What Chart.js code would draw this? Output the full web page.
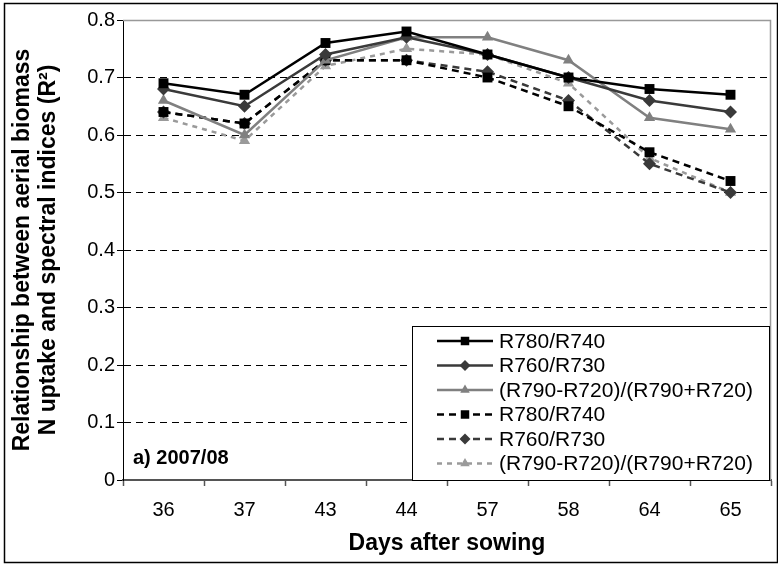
<!DOCTYPE html>
<html>
<head>
<meta charset="utf-8">
<script src="https://cdn.jsdelivr.net/npm/chart.js@4"></script>
<style>
  html, body { margin: 0; padding: 0; background: #fff; }
  #wrap { width: 778px; height: 565px; }
</style>
</head>
<body>
<div id="wrap"><canvas id="chart" width="778" height="565"></canvas></div>
<script>
const days = ['36', '37', '43', '44', '57', '58', '64', '65'];
const yTicks = [0, 0.1, 0.2, 0.3, 0.4, 0.5, 0.6, 0.7, 0.8];

// solid lines
const r780a = [0.69, 0.67, 0.76, 0.78, 0.74, 0.70, 0.68, 0.67];
const r760a = [0.68, 0.65, 0.74, 0.77, 0.74, 0.70, 0.66, 0.64];
const ndreA = [0.66, 0.60, 0.73, 0.77, 0.77, 0.73, 0.63, 0.61];
// dashed lines
const r780b = [0.64, 0.62, 0.73, 0.73, 0.70, 0.65, 0.57, 0.52];
const r760b = [0.64, 0.62, 0.73, 0.73, 0.71, 0.66, 0.55, 0.50];
const ndreB = [0.63, 0.59, 0.72, 0.75, 0.74, 0.69, 0.56, 0.50];

const labels = ['R780/R740', 'R760/R730', '(R790-R720)/(R790+R720)'];
const FONT = "'Liberation Sans', Arial, sans-serif";

function series(label, data, color, style, radius, dash) {
  return {
    label: label,
    data: data,
    borderColor: color,
    backgroundColor: color,
    borderWidth: 2.5,
    borderDash: dash,
    pointStyle: style,
    pointRadius: radius,
    pointHoverRadius: radius,
    pointBorderWidth: 0,
    tension: 0,
    fill: false
  };
}

const datasets = [
  series(labels[0], r780a, '#000000', 'rect', 7, []),
  series(labels[1], r760a, '#3a3a3a', 'rectRot', 6.5, []),
  series(labels[2], ndreA, '#808080', 'triangle', 6.5, []),
  series(labels[0], r780b, '#000000', 'rect', 7, [7, 5]),
  series(labels[1], r760b, '#3a3a3a', 'rectRot', 6.5, [7, 5]),
  series(labels[2], ndreB, '#9a9a9a', 'triangle', 6.5, [5, 5])
];

const frame = {
  id: 'frame',
  beforeDraw(chart) {
    const ctx = chart.ctx;
    ctx.save();
    ctx.fillStyle = '#fff';
    ctx.fillRect(0, 0, chart.width, chart.height);
    ctx.strokeStyle = '#000';
    ctx.lineWidth = 1.5;
    ctx.strokeRect(4.5, 3.5, 773, 559);
    ctx.restore();
  },
  beforeDatasetsDraw(chart) {
    const { ctx, chartArea: a } = chart;
    ctx.save();
    ctx.strokeStyle = '#999';
    ctx.lineWidth = 1.5;
    ctx.beginPath();
    ctx.moveTo(a.left, a.top + 0.5);
    ctx.lineTo(a.right - 0.5, a.top + 0.5);
    ctx.lineTo(a.right - 0.5, a.bottom);
    ctx.stroke();
    ctx.restore();
  },
  afterDraw(chart) {
    const { ctx, chartArea: a } = chart;
    ctx.save();
    // season label
    ctx.fillStyle = '#000';
    ctx.font = 'bold 20px ' + FONT;
    ctx.textBaseline = 'middle';
    ctx.fillText('a) 2007/08', a.left + 10, a.bottom - 22);

    // legend box inside plot area
    const bx = a.left + 289, by = a.top + 306, bw = a.right - 2 - bx, bh = a.bottom - by;
    ctx.fillStyle = '#fff';
    ctx.fillRect(bx, by, bw, bh);
    ctx.strokeStyle = '#000';
    ctx.lineWidth = 1;
    ctx.strokeRect(bx + 0.5, by + 0.5, bw, bh);
    ctx.font = '21px ' + FONT;
    chart.data.datasets.forEach((ds, i) => {
      const y = by + 15 + i * 24.5;
      const x0 = bx + 25, x1 = bx + 81;
      ctx.save();
      ctx.strokeStyle = ds.borderColor;
      ctx.lineWidth = ds.borderWidth;
      ctx.setLineDash(ds.borderDash);
      ctx.beginPath();
      ctx.moveTo(x0, y);
      ctx.lineTo(x1, y);
      ctx.stroke();
      ctx.restore();
      ctx.fillStyle = ds.borderColor;
      Chart.helpers.drawPoint(ctx, {
        pointStyle: ds.pointStyle,
        radius: ds.pointRadius - 1,
        rotation: 0,
        borderWidth: 0
      }, (x0 + x1) / 2, y);
      ctx.fillStyle = '#000';
      ctx.textBaseline = 'middle';
      ctx.fillText(ds.label, x1 + 6, y + 1);
    });
    ctx.restore();
  }
};

new Chart(document.getElementById('chart'), {
  type: 'line',
  data: { labels: days, datasets: datasets },
  options: {
    responsive: false,
    animation: false,
    events: [],
    layout: { padding: { left: 0, top: 20, right: 5, bottom: 0 } },
    plugins: { legend: { display: false }, tooltip: { enabled: false } },
    scales: {
      x: {
        type: 'category',
        offset: true,
        grid: { offset: true, drawOnChartArea: false, tickLength: 6, tickColor: '#555', tickWidth: 1.5 },
        border: { color: '#555', width: 2 },
        ticks: { color: '#000', font: { family: FONT, size: 20 }, padding: 12, maxRotation: 0 },
        title: {
          display: true, text: 'Days after sowing', color: '#000',
          font: { family: FONT, size: 23, weight: 'bold' }, padding: { top: 0, bottom: 8 }
        },
        afterFit(scale) { scale.height = 85; }
      },
      y: {
        min: 0, max: 0.8,
        afterBuildTicks(scale) { scale.ticks = yTicks.map(v => ({ value: v })); },
        grid: {
          color: ctx => (ctx.tick && ctx.tick.value > 0.05 && ctx.tick.value < 0.75) ? '#000' : 'rgba(0,0,0,0)',
          lineWidth: 1,
          tickLength: 6, tickColor: '#000', tickWidth: 1
        },
        border: { color: '#000', width: 1, dash: [7, 5] },
        ticks: {
          color: '#000', font: { family: FONT, size: 20 }, padding: 2,
          callback: v => String(Math.round(v * 10) / 10)
        },
        title: {
          display: true,
          text: ['Relationship between aerial biomass', 'N uptake and spectral indices (R\u00B2)'],
          color: '#000',
          font: { family: FONT, size: 23, weight: 'bold', lineHeight: 1.15 },
          padding: { top: 9, bottom: 0 }
        },
        afterFit(scale) { scale.width = 123; }
      }
    }
  },
  plugins: [frame]
});
</script>
</body>
</html>
